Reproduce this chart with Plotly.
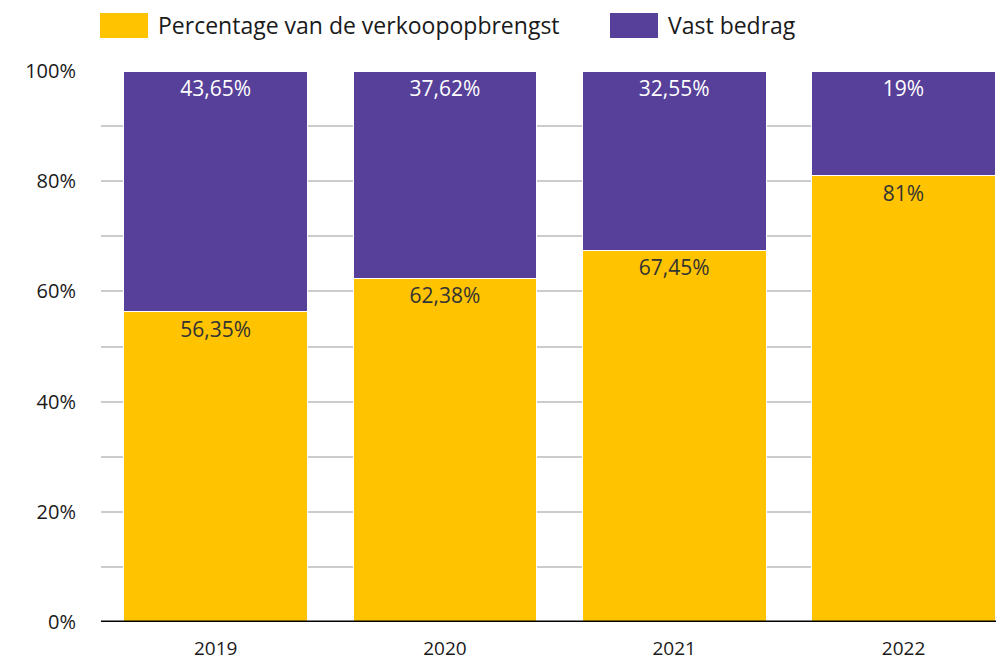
import plotly.graph_objects as go

years = ["2019", "2020", "2021", "2022"]
pct_verkoop = [56.35, 62.38, 67.45, 81]
vast_bedrag = [43.65, 37.62, 32.55, 19]
series_names = ["Percentage van de verkoopopbrengst", "Vast bedrag"]
colors = ["#FFC300", "#574099"]
y_tickvals = [0, 10, 20, 30, 40, 50, 60, 70, 80, 90, 100]
y_ticktext = ["0%", "", "20%", "", "40%", "", "60%", "", "80%", "", "100%"]

FONT = "Open Sans"
PLOT_W = 911
PLOT_H = 551

def fmt(v):
    return f"{v:g}".replace(".", ",") + "%"

fig = go.Figure()
fig.add_trace(go.Bar(
    x=years, y=pct_verkoop, name=series_names[0],
    marker=dict(color=colors[0], line=dict(color="white", width=1)),
    text=[fmt(v) for v in pct_verkoop], textposition="inside",
    insidetextanchor="end", textangle=0,
    textfont=dict(family=FONT, size=21, color="#333333"),
    showlegend=False, hoverinfo="skip",
))
fig.add_trace(go.Bar(
    x=years, y=vast_bedrag, name=series_names[1],
    marker=dict(color=colors[1], line=dict(color="white", width=1)),
    text=[fmt(v) for v in vast_bedrag], textposition="inside",
    insidetextanchor="end", textangle=0,
    textfont=dict(family=FONT, size=21, color="white"),
    showlegend=False, hoverinfo="skip",
))

# custom legend (large swatches); positions in window pixels
legend_x = [100, 610]
for i, name in enumerate(series_names):
    x0 = legend_x[i]
    fig.add_shape(type="rect", xref="paper", yref="paper",
                  x0=(x0 - 101) / PLOT_W, x1=(x0 + 48 - 101) / PLOT_W,
                  y0=1 + (71 - 38) / PLOT_H, y1=1 + (71 - 13) / PLOT_H,
                  fillcolor=colors[i], line=dict(width=0))
    fig.add_annotation(xref="paper", yref="paper",
                       x=(x0 + 56 - 101) / PLOT_W, y=1 + (71 - 25.5) / PLOT_H,
                       xanchor="left", yanchor="middle", showarrow=False,
                       text=name, font=dict(family=FONT, size=23, color="#1a1a1a"))

fig.update_layout(
    width=1004, height=660,
    margin=dict(l=93, r=0, t=63, b=46),
    barmode="stack", bargap=0.198,
    paper_bgcolor="white", plot_bgcolor="white",
    font=dict(family=FONT, color="#1a1a1a"),
    xaxis=dict(range=[-0.5, 3.473], showgrid=False, ticks="",
               ticklabelstandoff=13,
               tickfont=dict(family=FONT, size=19, color="#1a1a1a"),
               showline=False, zeroline=False, fixedrange=True),
    yaxis=dict(range=[0, 100], tickvals=y_tickvals, ticktext=y_ticktext,
               showgrid=True, gridcolor="#cccccc", gridwidth=2,
               zeroline=False, showline=False, ticks="",
               ticklabelstandoff=24,
               tickfont=dict(family=FONT, size=20, color="#1a1a1a")),
)
# baseline at 0%
fig.add_shape(type="line", xref="paper", yref="y", x0=0, x1=1, y0=0, y1=0,
              line=dict(color="black", width=3))

fig.write_html("out.html")
